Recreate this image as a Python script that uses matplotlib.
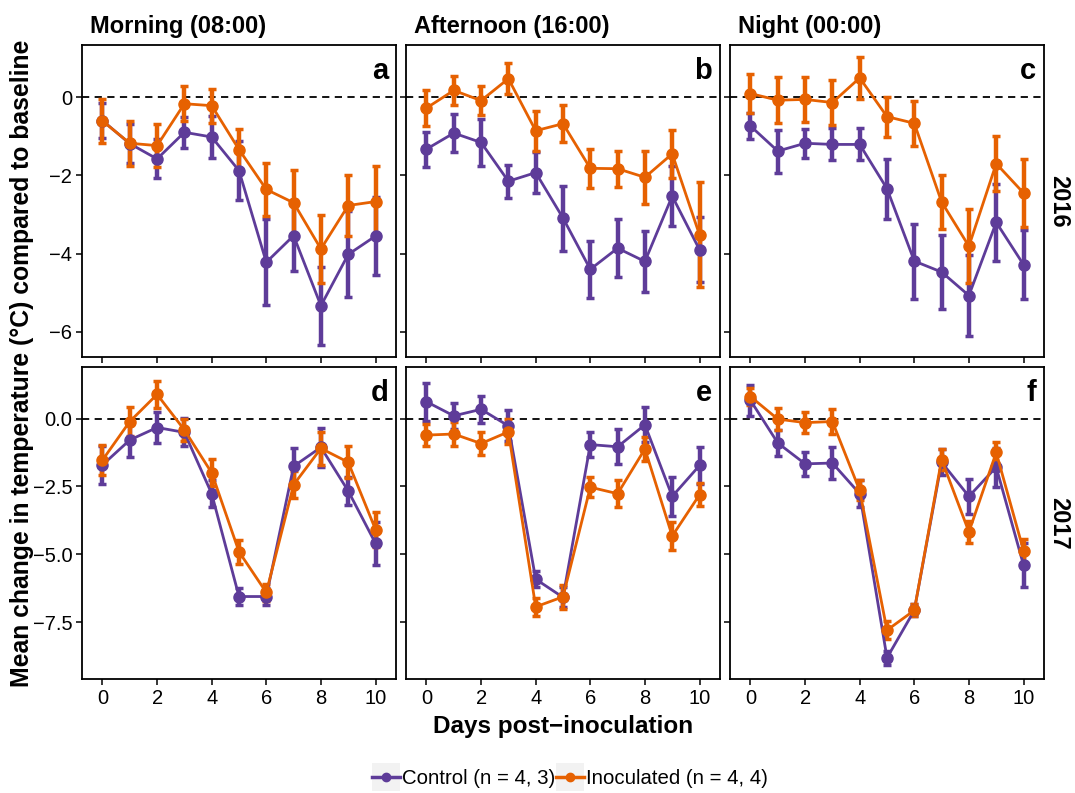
import matplotlib
matplotlib.use("Agg")

import numpy as np
import matplotlib.pyplot as plt
from matplotlib.lines import Line2D
from matplotlib.patches import Rectangle

plt.rcParams["font.family"] = ["Liberation Sans", "DejaVu Sans"]

days = list(range(11))
times = ["Morning (08:00)", "Afternoon (16:00)", "Night (00:00)"]
years = ["2016", "2017"]
letters = ["a", "b", "c", "d", "e", "f"]
labels = ["Control (n = 4, 3)", "Inoculated (n = 4, 4)"]

# 2016 (top row)
ctrl_a = [-0.60, -1.19, -1.58, -0.90, -1.02, -1.88, -4.22, -3.54, -5.33, -4.02, -3.55]
ctrl_err_a = [0.45, 0.50, 0.50, 0.40, 0.53, 0.75, 1.10, 0.90, 1.00, 1.10, 1.00]
inoc_a = [-0.61, -1.18, -1.24, -0.17, -0.22, -1.34, -2.36, -2.70, -3.88, -2.77, -2.67]
inoc_err_a = [0.57, 0.57, 0.55, 0.44, 0.43, 0.53, 0.68, 0.83, 0.87, 0.78, 0.90]

ctrl_b = [-1.33, -0.92, -1.16, -2.15, -1.93, -3.09, -4.40, -3.86, -4.20, -2.53, -3.90]
ctrl_err_b = [0.45, 0.49, 0.59, 0.42, 0.53, 0.83, 0.73, 0.74, 0.77, 0.76, 0.83]
inoc_b = [-0.28, 0.17, -0.09, 0.47, -0.86, -0.68, -1.82, -1.83, -2.05, -1.45, -3.52]
inoc_err_b = [0.47, 0.38, 0.36, 0.39, 0.51, 0.48, 0.50, 0.46, 0.67, 0.61, 1.34]

ctrl_c = [-0.74, -1.38, -1.18, -1.21, -1.21, -2.34, -4.19, -4.47, -5.07, -3.20, -4.28]
ctrl_err_c = [0.34, 0.55, 0.37, 0.41, 0.41, 0.77, 0.96, 0.94, 1.03, 0.98, 0.88]
inoc_c = [0.09, -0.08, -0.06, -0.14, 0.49, -0.50, -0.67, -2.68, -3.81, -1.70, -2.45]
inoc_err_c = [0.49, 0.58, 0.58, 0.57, 0.53, 0.51, 0.58, 0.68, 0.95, 0.71, 0.87]

# 2017 (bottom row)
ctrl_d = [-1.71, -0.79, -0.33, -0.51, -2.77, -6.56, -6.56, -1.76, -1.06, -2.67, -4.60]
ctrl_err_d = [0.70, 0.62, 0.56, 0.52, 0.50, 0.30, 0.30, 0.66, 0.71, 0.50, 0.80]
inoc_d = [-1.53, -0.11, 0.89, -0.42, -2.00, -4.91, -6.41, -2.44, -1.10, -1.61, -4.09]
inoc_err_d = [0.55, 0.54, 0.51, 0.41, 0.50, 0.45, 0.30, 0.50, 0.60, 0.58, 0.64]

ctrl_e = [0.62, 0.10, 0.34, -0.27, -5.92, -6.59, -0.96, -1.04, -0.23, -2.87, -1.73]
ctrl_err_e = [0.70, 0.48, 0.49, 0.57, 0.30, 0.37, 0.45, 0.65, 0.65, 0.73, 0.67]
inoc_e = [-0.61, -0.57, -0.92, -0.49, -6.94, -6.57, -2.53, -2.77, -1.12, -4.33, -2.81]
inoc_err_e = [0.41, 0.44, 0.43, 0.46, 0.32, 0.44, 0.38, 0.50, 0.43, 0.53, 0.42]

ctrl_f = [0.67, -0.90, -1.67, -1.64, -2.77, -8.82, -7.07, -1.61, -2.87, -1.79, -5.40]
ctrl_err_f = [0.57, 0.47, 0.45, 0.58, 0.49, 0.27, 0.22, 0.48, 0.65, 0.72, 0.81]
inoc_f = [0.81, -0.02, -0.15, -0.11, -2.65, -7.80, -7.07, -1.51, -4.18, -1.25, -4.87]
inoc_err_f = [0.30, 0.40, 0.38, 0.47, 0.37, 0.32, 0.22, 0.40, 0.41, 0.38, 0.44]

ctrl = [ctrl_a, ctrl_b, ctrl_c, ctrl_d, ctrl_e, ctrl_f]
ctrl_err = [ctrl_err_a, ctrl_err_b, ctrl_err_c, ctrl_err_d, ctrl_err_e, ctrl_err_f]
inoc = [inoc_a, inoc_b, inoc_c, inoc_d, inoc_e, inoc_f]
inoc_err = [inoc_err_a, inoc_err_b, inoc_err_c, inoc_err_d, inoc_err_e, inoc_err_f]

purple = "#5e3c99"
orange = "#e66101"

W, H = 1075, 793
fig = plt.figure(figsize=(W / 100, H / 100), dpi=100)

col_left = [82, 406, 730]
panel_w = 314
row_top = [45, 367]
panel_h = 312
ylims = [(-6.64, 1.33), (-9.6, 1.9)]
yticks = [[0, -2, -4, -6], [0.0, -2.5, -5.0, -7.5]]
ytick_labels = [["0", "\u22122", "\u22124", "\u22126"],
                ["0.0", "\u22122.5", "\u22125.0", "\u22127.5"]]


def draw_series(ax, y, err, color):
    ax.errorbar(days, y, yerr=err, color=color, lw=2.0, marker="o", ms=8,
                elinewidth=3.2, capsize=3, capthick=2.5, zorder=3)


for r in range(2):
    for c in range(3):
        i = r * 3 + c
        ax = fig.add_axes([col_left[c] / W, 1 - (row_top[r] + panel_h) / H,
                           panel_w / W, panel_h / H])
        ax.axhline(0, color="black", ls=(0, (4, 3)), lw=1.3, zorder=1)
        draw_series(ax, ctrl[i], ctrl_err[i], purple)
        draw_series(ax, inoc[i], inoc_err[i], orange)
        ax.set_xlim(-0.75, 10.75)
        ax.set_ylim(*ylims[r])
        ax.set_xticks([0, 2, 4, 6, 8, 10])
        ax.set_yticks(yticks[r])
        ax.tick_params(direction="out", length=4, width=1.1, colors="black",
                       labelsize=14.5, pad=3)
        if c == 0:
            ax.set_yticklabels(ytick_labels[r])
        else:
            ax.set_yticklabels([])
        if r == 0:
            ax.set_xticklabels([])
        for s in ax.spines.values():
            s.set_linewidth(1.3)
        ax.text(0.975, 0.96, letters[i], transform=ax.transAxes, ha="right",
                va="top", fontsize=21, fontweight="bold")
        if r == 0:
            ax.text((col_left[c] + 8) / W, 1 - 27 / H, times[c],
                    transform=fig.transFigure, ha="left", va="center",
                    fontsize=17, fontweight="bold")
        if c == 2:
            ax.text(1.045, 0.5, years[r], transform=ax.transAxes, ha="center",
                    va="center", rotation=270, fontsize=17,
                    fontweight="bold")

fig.text(22 / W, 1 - 363 / H,
         "Mean change in temperature (\u00b0C) compared to baseline",
         rotation=90, ha="center", va="center", fontsize=17.8,
         fontweight="bold")
fig.text(563 / W, 1 - 726 / H, "Days post\u2212inoculation", ha="center",
         va="center", fontsize=17.5, fontweight="bold")

handles = [Line2D([], [], color=purple, lw=2.5, marker="o", ms=6),
           Line2D([], [], color=orange, lw=2.5, marker="o", ms=6)]
leg = fig.legend(handles, labels, loc="center", bbox_to_anchor=(570 / W, 1 - 779 / H),
                 ncol=2, frameon=False, fontsize=14.7, handlelength=1.4,
                 handletextpad=0.1, columnspacing=0.0, borderpad=0)

# light grey key boxes, like the ggplot legend keys
fig.canvas.draw()
renderer = fig.canvas.get_renderer()
for h in leg.legend_handles:
    bb = h.get_window_extent(renderer)
    cx, cy = (bb.x0 + bb.x1) / 2, (bb.y0 + bb.y1) / 2
    fig.patches.append(Rectangle(((cx - 14) / W, (cy - 14) / H), 28 / W, 28 / H,
                                 transform=fig.transFigure, facecolor="#f2f2f2",
                                 edgecolor="none", zorder=0))

fig.savefig("out.png", dpi=100)
